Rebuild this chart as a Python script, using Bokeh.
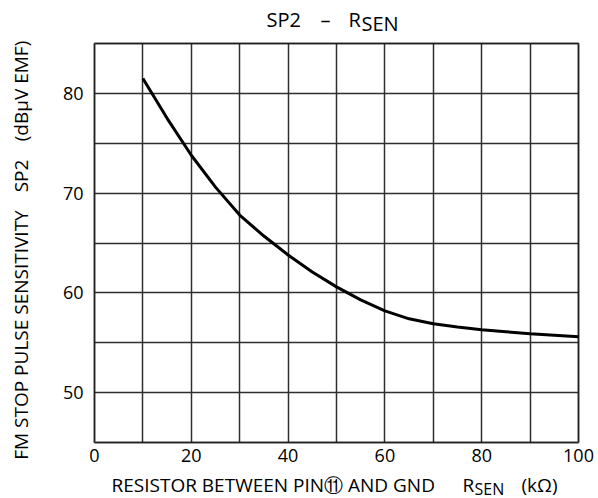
from bokeh.plotting import figure
from bokeh.models import FixedTicker, Label, Range1d, BoxAnnotation, Grid
from bokeh.embed import file_html
from bokeh.resources import INLINE

# Data
r_sen = [10, 15, 20, 25, 30, 35, 40, 45, 50, 55, 60, 65, 70, 75, 80, 85, 90, 95, 100]
sp2 = [81.5, 77.5, 73.8, 70.6, 67.8, 65.7, 63.8, 62.1, 60.6, 59.3, 58.2,
       57.4, 56.9, 56.57, 56.3, 56.1, 55.9, 55.75, 55.6]

x_ticks = [0, 20, 40, 60, 80, 100]
x_grid = [0, 10, 20, 30, 40, 50, 60, 70, 80, 90, 100]
y_ticks = [50, 60, 70, 80]
y_grid = [45, 50, 55, 60, 65, 70, 75, 80, 85]

FONT = "Open Sans"

# layout: canvas size and where the plotting box sits on it (pixels)
W, H = 598, 498
BX0, BX1, BY0, BY1 = 94, 578, 43, 442
xs = (BX1 - BX0) / (x_grid[-1] - x_grid[0])
ys = (BY1 - BY0) / (y_grid[-1] - y_grid[0])
x_range = Range1d(x_grid[0] - BX0 / xs, x_grid[-1] + (W - BX1) / xs)
y_range = Range1d(y_grid[0] - (H - BY1) / ys, y_grid[-1] + BY0 / ys)

p = figure(width=W, height=H, output_backend="svg", toolbar_location=None,
           x_range=x_range, y_range=y_range,
           min_border_left=0, min_border_right=0, min_border_top=0,
           min_border_bottom=0)
p.background_fill_color = "white"
p.border_fill_color = "white"
p.outline_line_color = None

# axes pinned to the box edges
p.xaxis.fixed_location = y_grid[0]
p.yaxis.fixed_location = x_grid[0]
p.xaxis.ticker = FixedTicker(ticks=x_ticks)
p.yaxis.ticker = FixedTicker(ticks=y_ticks)
for ax in (p.xaxis, p.yaxis):
    ax.axis_line_color = None
    ax.major_tick_line_color = None
    ax.minor_tick_line_color = None
    ax.major_tick_out = 0
    ax.major_tick_in = 0
    ax.major_label_text_font = FONT
    ax.major_label_text_font_size = "18px"
    ax.major_label_text_color = "black"
p.xaxis.major_label_standoff = 6
p.yaxis.major_label_standoff = 11

# grid limited to the box
p.xgrid.ticker = FixedTicker(ticks=x_grid)
p.ygrid.ticker = FixedTicker(ticks=y_grid)
has_cb = "cross_bounds" in Grid.properties()
for g in (p.xgrid, p.ygrid):
    g.grid_line_color = "#2e2e2e"
    g.grid_line_width = 1.5
if has_cb:
    p.xgrid.cross_bounds = (y_grid[0], y_grid[-1])
    p.ygrid.cross_bounds = (x_grid[0], x_grid[-1])
else:
    p.xgrid.visible = False
    p.ygrid.visible = False
    p.segment(x0=x_grid, x1=x_grid, y0=[y_grid[0]] * len(x_grid), y1=[y_grid[-1]] * len(x_grid),
              line_color="#2e2e2e", line_width=1.5)
    p.segment(x0=[x_grid[0]] * len(y_grid), x1=[x_grid[-1]] * len(y_grid), y0=y_grid, y1=y_grid,
              line_color="#2e2e2e", line_width=1.5)

p.add_layout(BoxAnnotation(left=x_grid[0], right=x_grid[-1], bottom=y_grid[0], top=y_grid[-1],
                           fill_alpha=0, fill_color=None, line_color="black", line_width=2.5))

p.line(r_sen, sp2, line_color="black", line_width=3)


def lab(px, py, text, size="19px", align="left", angle=0.0):
    p.add_layout(Label(x=px, y=H - py, x_units="screen", y_units="screen", text=text,
                       text_font=FONT, text_font_size=size, text_align=align,
                       text_baseline="middle", angle=angle, text_color="black"))


# Title (y = vertical centre of the letters)
lab(266, 18.7, "SP2", size="20px")
lab(325, 18.7, "–", size="20px", align="center")
lab(348, 18.7, "R", size="20px")
lab(361, 23, "SEN", size="20px")

# X axis label
lab(111, 484, "RESISTOR BETWEEN PIN⑪ AND GND")
lab(462, 484, "R")
lab(474, 488, "SEN", size="16px")
lab(521, 484, "(kΩ)")

# Y axis label (reads bottom to top)
ang = 1.5707963267948966
lab(20, 334.5, "FM STOP PULSE SENSITIVITY", align="center", angle=ang)
lab(20, 175.5, "SP2", align="center", angle=ang)
lab(20, 90.5, "(dBμV EMF)", align="center", angle=ang)

open("out.html", "w").write(file_html(p, INLINE))
